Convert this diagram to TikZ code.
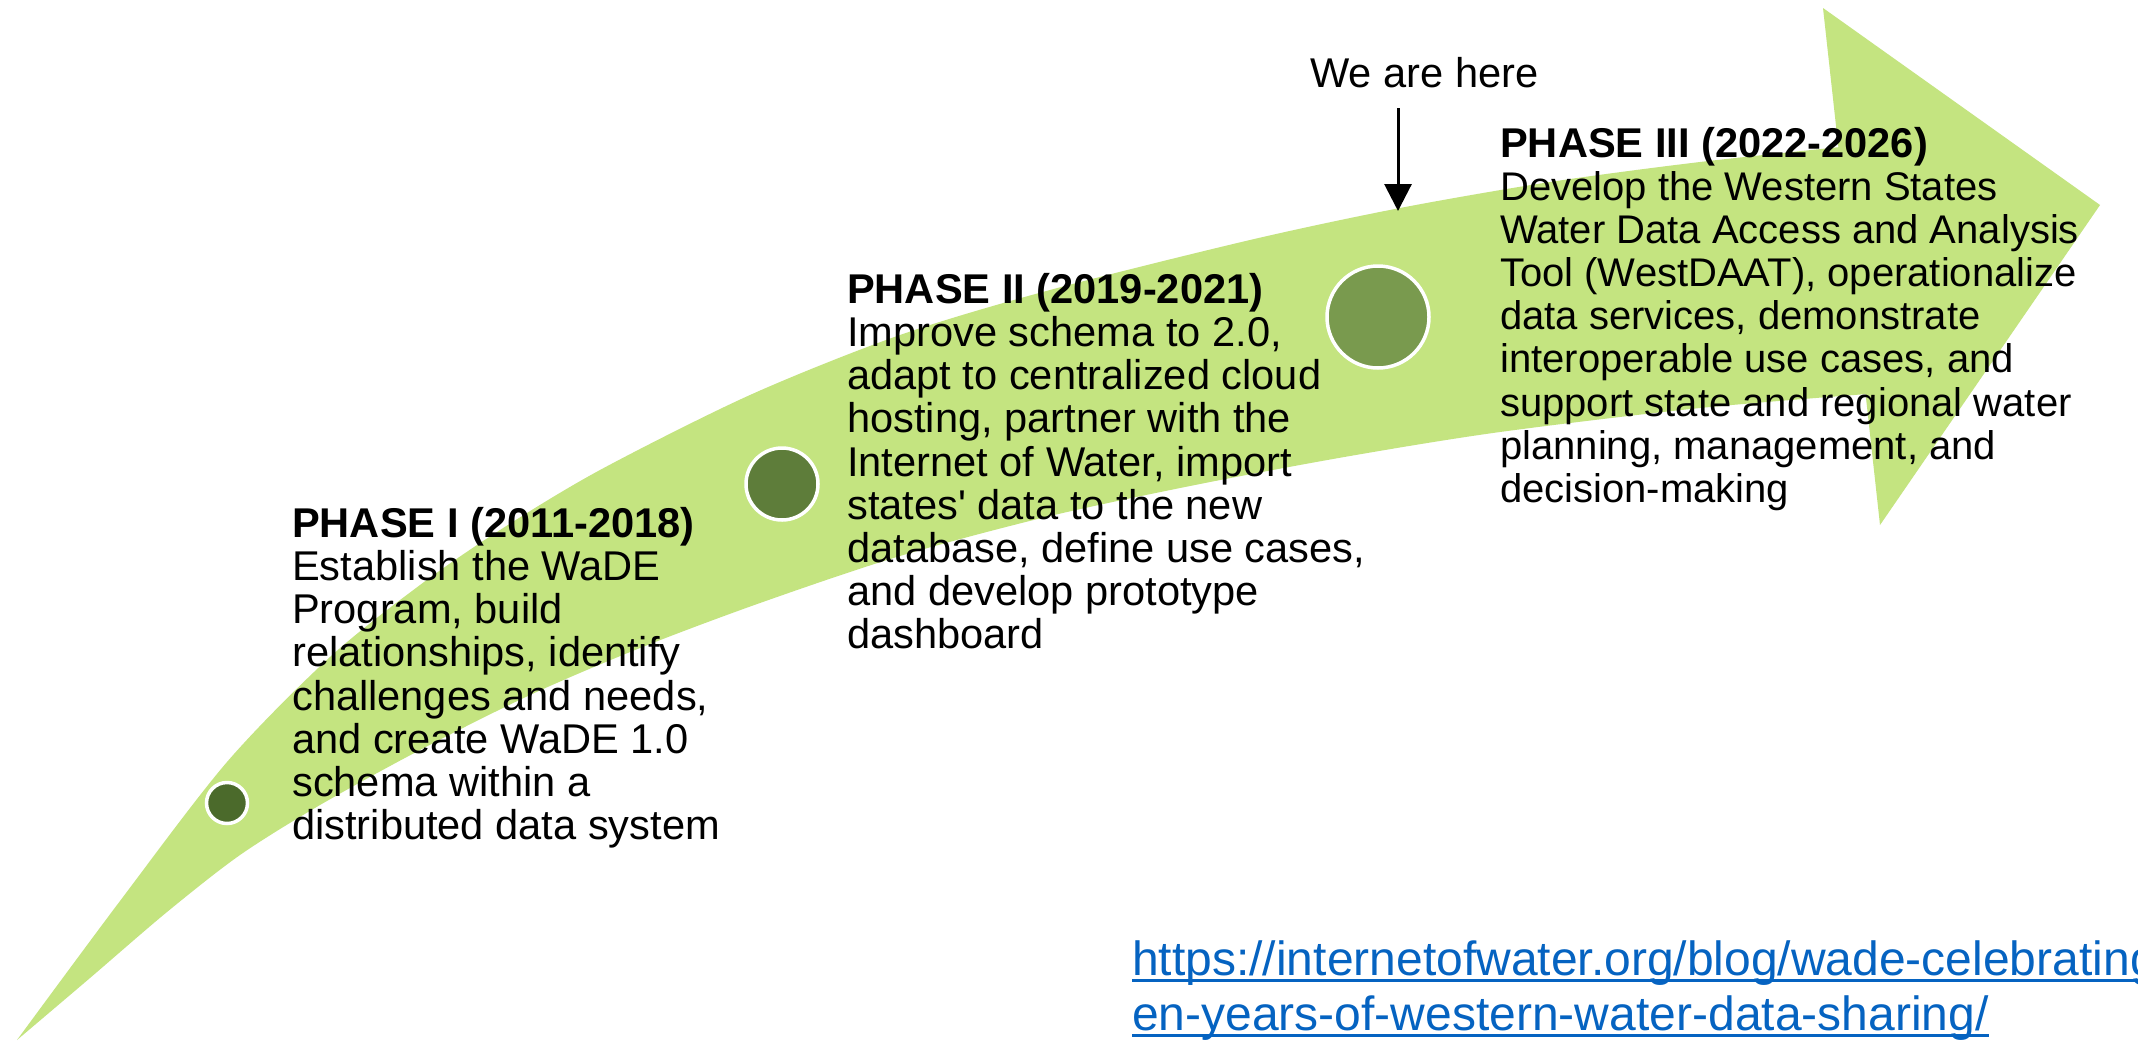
\documentclass[tikz,border=0pt]{standalone}
\usepackage{fontspec}
\setmainfont{Liberation Sans}[Ligatures=TeXOff]
\usetikzlibrary{arrows.meta}
\definecolor{band}{RGB}{196,228,128}
\definecolor{dotA}{RGB}{75,106,43}
\definecolor{dotB}{RGB}{94,125,58}
\definecolor{dotC}{RGB}{121,154,78}
\definecolor{linkblue}{RGB}{5,99,193}
\begin{document}
\begin{tikzpicture}[x=1pt,y=-1pt,
  phase/.style={anchor=north west, inner sep=0pt, align=left, text=black,
    font=\fontsize{41.6}{43.2}\selectfont},
  phasebody/.style={phase, font=\fontsize{40}{43.2}\selectfont},
  dot/.style={circle, draw=white, line width=3.5pt, inner sep=0pt},
  linktext/.style={anchor=base west, inner sep=0pt, text=linkblue,
    font=\fontsize{48}{55}\selectfont},
  linkrule/.style={draw=linkblue, line width=3.4pt},
  pointer/.style={draw=black, line width=3pt, -{Triangle[width=27pt,length=27pt]}}]
\useasboundingbox (0,0) rectangle (2138,1042);
\fill[white] (0,0) rectangle (2138,1042);
\clip (0,0) rectangle (2138,1042);

% curved band
\fill[band] plot[smooth, tension=0.5] coordinates {(17,1040) (120,901) (227,762) (330,657) (420,585) (500,530) (600,470) (750,395) (900,335) (1050,290) (1250,240) (1400,208) (1550,182) (1700,162) (1860,145)}
  -- plot[smooth, tension=0.5] coordinates {(1880,393) (1700,408) (1500,432) (1350,456) (1200,484) (1050,516) (900,556) (760,603) (640,648) (530,695) (420,750) (320,805) (240,855) (167,912) (90,978) (17,1040)} -- cycle;
% arrow head
\fill[band] (1823,8) -- (2100,205) -- (1880,525) -- cycle;

% milestones
\node[dot, fill=dotA, minimum size=41pt] (m1) at (227,803) {};
\node[dot, fill=dotB, minimum size=72pt] (m2) at (782,484) {};
\node[dot, fill=dotC, minimum size=102pt] (m3) at (1378,317) {};

% texts
\node[phase] (p1) at (292,507) {\textbf{PHASE I (2011-2018)}\\Establish the WaDE\\Program, build\\relationships, identify\\challenges and needs,\\and create WaDE 1.0\\schema within a\\distributed data system};
\node[phase] (p2) at (847,273) {\textbf{PHASE II (2019-2021)}\\Improve schema to 2.0,\\adapt to centralized cloud\\hosting, partner with the\\Internet of Water, import\\states' data to the new\\database, define use cases,\\and develop prototype\\dashboard};
\node[phase] (p3h) at (1500,127) {\textbf{PHASE III (2022-2026)}};
\node[phasebody] (p3) at (1500,171) {Develop the Western States\\Water Data Access and Analysis\\Tool (WestDAAT), operationalize\\data services, demonstrate\\interoperable use cases, and\\support state and regional water\\planning, management, and\\decision-making};

\node[anchor=base west, inner sep=0pt, font=\fontsize{41.6}{43.2}\selectfont] (here) at (1310,87) {We are here};
\coordinate (hereStart) at (1398,108);
\coordinate (hereEnd) at (1398,211);
\draw[pointer] (hereStart) -- (hereEnd);

% link
\node[linktext] (link1) at (1132,975) {https://internetofwater.org/blog/wade-celebrating-t};
\node[linktext] (link2) at (1132,1030) {en-years-of-western-water-data-sharing/};
\draw[linkrule] ([yshift=-5.5pt]link1.base west) -- ([yshift=-5.5pt]link1.base east);
\draw[linkrule] ([yshift=-5.5pt]link2.base west) -- ([yshift=-5.5pt]link2.base east);
\end{tikzpicture}
\end{document}
